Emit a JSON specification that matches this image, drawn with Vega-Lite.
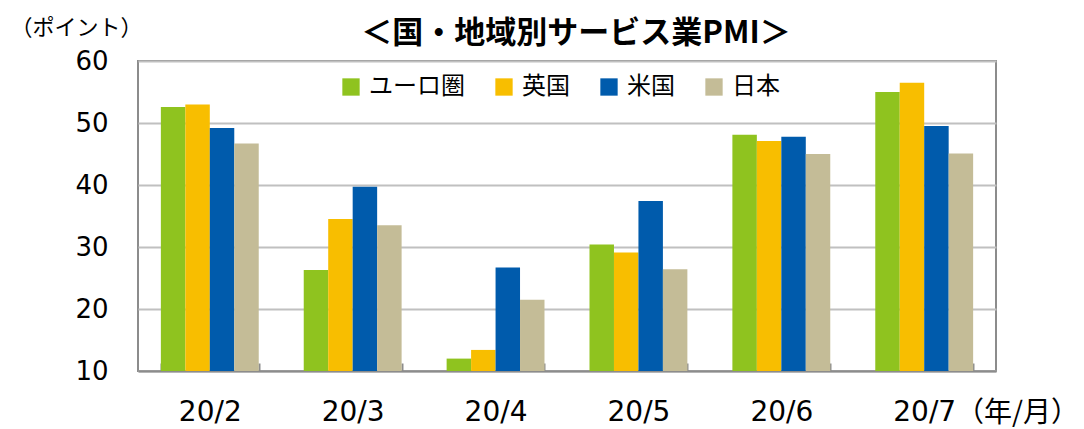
{
  "$schema": "https://vega.github.io/schema/vega-lite/v6.json",
  "autosize": "none",
  "width": 858,
  "height": 310,
  "padding": {"left": 138, "top": 61, "right": 88, "bottom": 58},
  "background": "white",
  "title": {
    "text": "＜国・地域別サービス業PMI＞",
    "font": "Noto Sans CJK JP",
    "fontSize": 31,
    "fontWeight": "bold",
    "color": "#000000",
    "anchor": "middle",
    "frame": "group",
    "dx": 9,
    "dy": 65,
    "offset": 0,
    "baseline": "bottom"
  },
  "data": {
    "values": [
      {"month": "20/2", "region": "ユーロ圏", "pmi": 52.6},
      {"month": "20/2", "region": "英国", "pmi": 53.0},
      {"month": "20/2", "region": "米国", "pmi": 49.2},
      {"month": "20/2", "region": "日本", "pmi": 46.7},
      {"month": "20/3", "region": "ユーロ圏", "pmi": 26.3},
      {"month": "20/3", "region": "英国", "pmi": 34.5},
      {"month": "20/3", "region": "米国", "pmi": 39.7},
      {"month": "20/3", "region": "日本", "pmi": 33.5},
      {"month": "20/4", "region": "ユーロ圏", "pmi": 12.0},
      {"month": "20/4", "region": "英国", "pmi": 13.4},
      {"month": "20/4", "region": "米国", "pmi": 26.7},
      {"month": "20/4", "region": "日本", "pmi": 21.5},
      {"month": "20/5", "region": "ユーロ圏", "pmi": 30.4},
      {"month": "20/5", "region": "英国", "pmi": 29.1},
      {"month": "20/5", "region": "米国", "pmi": 37.4},
      {"month": "20/5", "region": "日本", "pmi": 26.4},
      {"month": "20/6", "region": "ユーロ圏", "pmi": 48.1},
      {"month": "20/6", "region": "英国", "pmi": 47.1},
      {"month": "20/6", "region": "米国", "pmi": 47.8},
      {"month": "20/6", "region": "日本", "pmi": 45.0},
      {"month": "20/7", "region": "ユーロ圏", "pmi": 55.0},
      {"month": "20/7", "region": "英国", "pmi": 56.5},
      {"month": "20/7", "region": "米国", "pmi": 49.5},
      {"month": "20/7", "region": "日本", "pmi": 45.1}
    ]
  },
  "mark": {"type": "bar", "strokeWidth": 0},
  "encoding": {
    "x": {
      "field": "month",
      "type": "nominal",
      "sort": null,
      "scale": {"paddingInner": 0.315, "paddingOuter": 0.16},
      "axis": {
        "title": "（年/月）",
        "titleFont": "Noto Sans CJK JP",
        "titleFontSize": 28,
        "titleFontWeight": "normal",
        "titleColor": "#000000",
        "titleAngle": 0,
        "titleX": 879,
        "titleY": 42,
        "titleAlign": "center",
        "titleBaseline": "middle",
        "labelAngle": 0,
        "labelFont": "DejaVu Sans",
        "labelFontSize": 28,
        "labelColor": "#000000",
        "labelPadding": 35,
        "labelBaseline": "top",
        "domainColor": "#8c8c8c",
        "domainWidth": 2,
        "tickColor": "#8c8c8c",
        "tickWidth": 2,
        "tickSize": -8,
        "tickBand": "extent",
        "grid": false
      }
    },
    "xOffset": {
      "field": "region",
      "type": "nominal",
      "sort": ["ユーロ圏", "英国", "米国", "日本"],
      "scale": {"paddingInner": 0, "paddingOuter": 0}
    },
    "y": {
      "field": "pmi",
      "type": "quantitative",
      "scale": {"domain": [10, 60], "nice": false, "zero": false},
      "axis": {
        "values": [10, 20, 30, 40, 50, 60],
        "title": "（ポイント）",
        "titleFont": "Noto Sans CJK JP",
        "titleFontSize": 22,
        "titleFontWeight": "normal",
        "titleColor": "#000000",
        "titleAngle": 0,
        "titleX": -62,
        "titleY": -34,
        "titleAlign": "center",
        "titleBaseline": "middle",
        "labelFont": "DejaVu Sans",
        "labelFontSize": 26,
        "labelColor": "#000000",
        "labelPadding": 30,
        "ticks": false,
        "domain": false,
        "gridColor": "#c0c0c0",
        "gridWidth": 2
      }
    },
    "y2": {"datum": 10},
    "color": {
      "field": "region",
      "type": "nominal",
      "sort": ["ユーロ圏", "英国", "米国", "日本"],
      "scale": {
        "domain": ["ユーロ圏", "英国", "米国", "日本"],
        "range": ["#8fc31f", "#f8be00", "#005bac", "#c4bc97"]
      },
      "legend": {
        "title": null,
        "orient": "none",
        "legendX": 201,
        "legendY": 14,
        "direction": "horizontal",
        "symbolType": "square",
        "symbolSize": 300,
        "symbolStrokeWidth": 0,
        "labelFont": "Noto Sans CJK JP",
        "labelFontSize": 24,
        "labelColor": "#000000",
        "labelOffset": 6,
        "columnPadding": 27,
        "fillColor": "white"
      }
    }
  },
  "config": {
    "view": {"stroke": "#8c8c8c", "strokeWidth": 2}
  }
}
